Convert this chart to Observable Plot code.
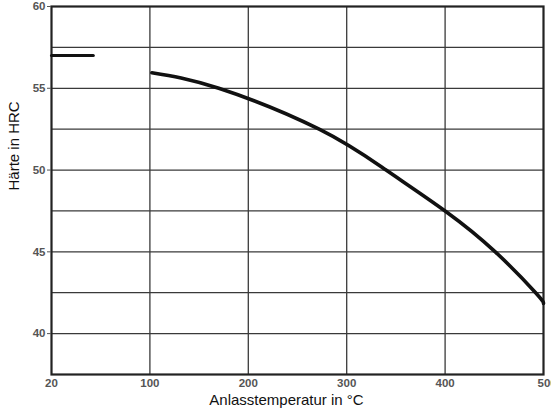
<!DOCTYPE html>
<html>
<head>
<meta charset="utf-8">
<script src="https://cdn.jsdelivr.net/npm/d3@7"></script>
<script src="https://cdn.jsdelivr.net/npm/@observablehq/plot@0.6"></script>
<style>
  html, body { margin: 0; padding: 0; background: #fff; }
  #chart svg { display: block; }
</style>
</head>
<body>
<div id="chart"></div>
<script>
// Anlasstemperatur (°C) and Härte (HRC)
const curveTemp = [102, 170, 272, 340, 400, 451, 492, 500];
const curveHRC  = [55.95, 55.0, 52.5, 50.0, 47.5, 45.0, 42.5, 41.85];
const quenchTemp = [20, 54];
const quenchHRC  = [57, 57];

const xTicks = [20, 100, 200, 300, 400];
const xTickLast = [500];
const xGrid = [100, 200, 300, 400];
const yTicks = [40, 45, 50, 55, 60];
const yGrid = [40, 42.5, 45, 47.5, 50, 52.5, 55, 57.5];

const curve = curveTemp.map((t, i) => ({t, h: curveHRC[i]}));
const quench = quenchTemp.map((t, i) => ({t, h: quenchHRC[i]}));

const W = 551, H = 414;
const mL = 51, mR = 8, mT = 6, mB = 40;

// the original axis is broken: the stretch 20–100 °C takes the same width as 100 °C
const brokenAxis = t => (t < 100 ? (t - 20) * 100 / 80 : t);

const fontAxis = "'Liberation Sans Narrow', 'Arial Narrow', 'Liberation Sans', sans-serif";
const tickStyle = {fill: "#555", fontSize: 11.5, fontWeight: "bold"};

const plot = Plot.plot({
  width: W,
  height: H,
  marginLeft: mL,
  marginRight: mR,
  marginTop: mT,
  marginBottom: mB,
  style: {fontFamily: fontAxis, background: "#fff"},
  x: {type: "linear", transform: brokenAxis, domain: [0, 500], axis: null},
  y: {domain: [37.5, 60], axis: null},
  marks: [
    Plot.ruleX(xGrid, {stroke: "#3a3a3a", strokeWidth: 1.3}),
    Plot.ruleY(yGrid, {stroke: "#3a3a3a", strokeWidth: 1.3}),
    Plot.frame({stroke: "#222", strokeWidth: 2.2}),
    Plot.axisY({ticks: yTicks, tickSize: 4, tickPadding: 2, label: null, color: "#555", fontSize: 11.5, fontWeight: "bold"}),
    Plot.text(xTicks, {x: d => d, frameAnchor: "bottom", dy: 12, text: d => String(d), ...tickStyle}),
    Plot.text(xTickLast, {x: d => d, frameAnchor: "bottom", dy: 12, dx: -6, textAnchor: "start", text: d => String(d), ...tickStyle}),
    Plot.line(quench, {x: "t", y: "h", stroke: "#111", strokeWidth: 3}),
    Plot.line(curve, {x: "t", y: "h", curve: "natural", stroke: "#111", strokeWidth: 3.6}),
    Plot.text(["Anlasstemperatur in °C"], {frameAnchor: "bottom", dy: 30, dx: -11, text: d => d, fill: "#111", fontSize: 15}),
    Plot.text(["Härte in HRC"], {frameAnchor: "left", dx: -37, rotate: -90, text: d => d, fill: "#111", fontSize: 15})
  ]
});

document.getElementById("chart").appendChild(plot);
</script>
</body>
</html>
